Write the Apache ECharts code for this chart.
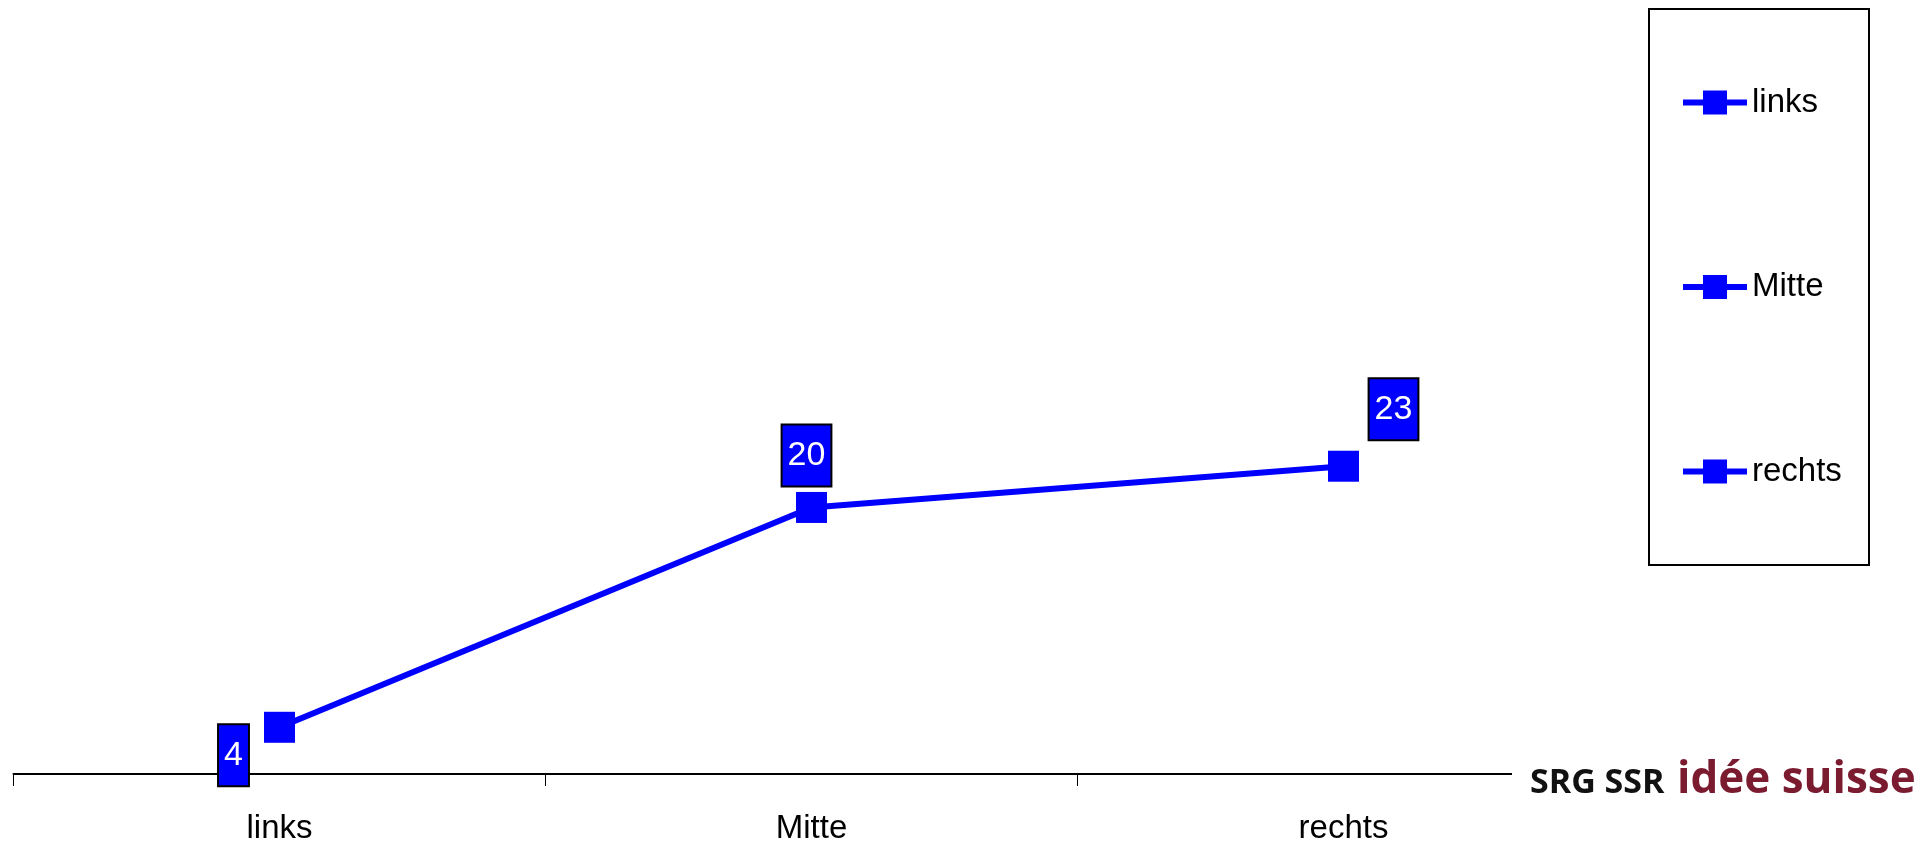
<!DOCTYPE html>
<html>
<head>
<meta charset="utf-8">
<script src="https://cdn.jsdelivr.net/npm/echarts@6/dist/echarts.min.js"></script>
<style>
html,body{margin:0;padding:0;background:#fff;}
#chart{width:1930px;height:845px;}
</style>
</head>
<body>
<div id="chart"></div>
<script>
// ---- data ----
const categories = ['links', 'Mitte', 'rechts'];
const values = [4, 20, 23];
const legendNames = ['links', 'Mitte', 'rechts'];

// ---- styling (kept apart from data) ----
const BLUE = '#0000ff';
const FONT = '"Liberation Sans", Arial, sans-serif';
const labelOffsets = [[-46, 28], [-5, -52], [50, -57]];

const chart = echarts.init(document.getElementById('chart'), null, {renderer: 'canvas'});

const mainData = values.map((v, i) => ({
  value: v,
  label: { offset: labelOffsets[i] }
}));

const legendSeries = legendNames.map(n => ({
  name: n,
  type: 'line',
  data: [],
  symbol: 'rect',
  color: BLUE,
  lineStyle: { color: BLUE, width: 6 },
  itemStyle: { color: BLUE }
}));

const option = {
  backgroundColor: '#fff',
  animation: false,
  grid: { left: 13.5, right: 320.5, top: 87, bottom: 68, containLabel: false },
  xAxis: {
    type: 'category',
    data: categories,
    boundaryGap: true,
    axisLine: { show: true, lineStyle: { color: '#000', width: 2 } },
    axisTick: { show: true, length: 12, lineStyle: { color: '#000', width: 1 } },
    axisLabel: { color: '#000', fontSize: 33, fontFamily: FONT, margin: 38 },
    splitLine: { show: false }
  },
  yAxis: {
    type: 'value',
    min: 0.6,
    max: 50.6,
    show: false,
    splitLine: { show: false }
  },
  legend: {
    data: legendNames,
    orient: 'vertical',
    left: 1680,
    top: 86,
    padding: 0,
    itemWidth: 64,
    itemHeight: 30,
    itemGap: 151.5,
    selectedMode: false,
    lineStyle: { width: 6 },
    textStyle: { color: '#000', fontSize: 33, fontFamily: FONT, lineHeight: 30 }
  },
  series: [
    {
      name: 'Anteil',
      type: 'line',
      data: mainData,
      symbol: 'rect',
      symbolSize: 31,
      color: BLUE,
      lineStyle: { color: BLUE, width: 6 },
      itemStyle: { color: BLUE },
      z: 3,
      label: {
        show: true,
        position: 'inside',
        color: '#fff',
        fontSize: 34,
        fontFamily: FONT,
        lineHeight: 34,
        backgroundColor: BLUE,
        borderColor: '#000',
        borderWidth: 2,
        padding: [13, 5, 13, 5],
        formatter: p => String(Math.round(p.value))
      }
    }
  ].concat(legendSeries),
  graphic: [
    {
      type: 'rect',
      shape: { x: 1649, y: 9, width: 220, height: 556 },
      style: { fill: 'none', stroke: '#000', lineWidth: 2 },
      z: 10
    },
    {
      type: 'rect',
      shape: { x: 1512, y: 752, width: 418, height: 56 },
      style: { fill: '#fff' },
      z: 20
    },
    {
      type: 'text',
      x: 1530, y: 783,
      style: { text: 'SRG SSR', fill: '#111', font: 'bold 34px "Open Sans", Arial, sans-serif', textVerticalAlign: 'middle' },
      z: 21
    },
    {
      type: 'text',
      x: 1677, y: 780,
      style: { text: 'idée suisse', fill: '#7a1b30', font: 'bold 44px "Open Sans", Arial, sans-serif', textVerticalAlign: 'middle' },
      z: 21
    }
  ]
};

chart.setOption(option);
</script>
</body>
</html>
